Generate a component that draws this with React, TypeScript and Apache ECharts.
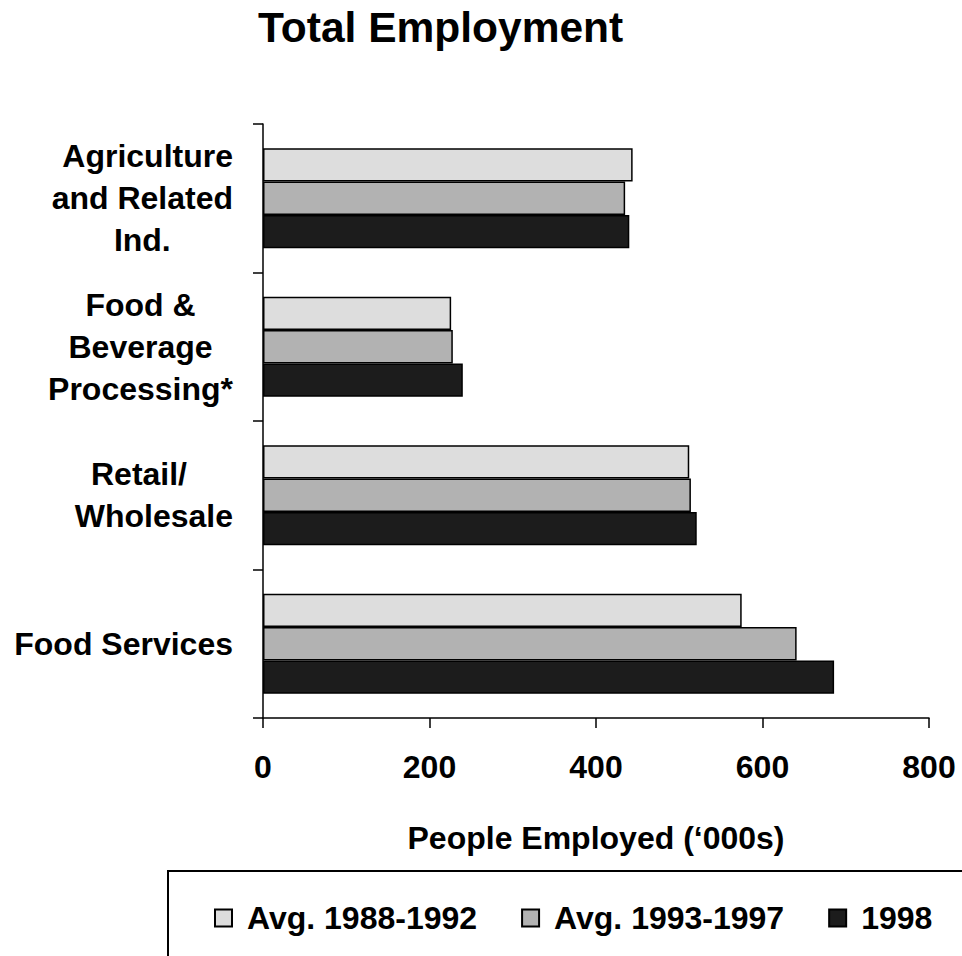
import React, { useEffect, useRef } from "react";
import * as echarts from "echarts";

const categories = [
  "Agriculture\nand Related\nInd.",
  "Food &\nBeverage\nProcessing*",
  "Retail/\nWholesale",
  "Food Services",
];
const seriesNames = ["Avg. 1988-1992", "Avg. 1993-1997", "1998"];
const avg8892 = [444, 226, 512, 575];
const avg9397 = [435, 228, 514, 641];
const y1998 = [440, 240, 521, 686];
const xTicks = [0, 200, 400, 600, 800];

const FONT = "'Liberation Sans', Arial, Helvetica, sans-serif";
const colors = ["#DDDDDD", "#B2B2B2", "#1C1C1C"];

// rich-style name per label line (default right-aligned)
const lineStyle: Record<string, string> = {
  "Ind.": "c",
  "Food &": "c",
  "Beverage": "c",
  "Retail/": "rs",
};

export default function App() {
  const ref = useRef<HTMLDivElement>(null);
  useEffect(() => {
    document.body.style.margin = "0";
    if (!ref.current) return;
    const chart = echarts.init(ref.current, null, { renderer: "svg" });
    const lbl = { fontFamily: FONT, fontSize: 32, fontWeight: "bold", color: "#000", lineHeight: 42 };
    const values = [avg8892, avg9397, y1998];
    chart.setOption({
      animation: false,
      backgroundColor: "#fff",
      title: {
        text: "Total Employment",
        left: 258,
        top: 6,
        padding: 0,
        textStyle: { fontFamily: FONT, fontSize: 42.5, fontWeight: "bold", color: "#000" },
      },
      legend: {
        data: seriesNames,
        orient: "horizontal",
        left: 168,
        top: 871,
        width: 820,
        padding: [31, 60, 40, 46],
        borderColor: "#000",
        borderWidth: 2,
        itemWidth: 17,
        itemHeight: 17,
        itemGap: 44,
        icon: "rect",
        selectedMode: false,
        textStyle: { fontFamily: FONT, fontSize: 32, fontWeight: "bold", color: "#000", padding: [0, 0, 0, 10] },
      },
      grid: { left: 263, right: 33, top: 124, bottom: 238, containLabel: false },
      xAxis: {
        type: "value",
        min: xTicks[0],
        max: xTicks[xTicks.length - 1],
        interval: xTicks[1] - xTicks[0],
        name: "People Employed (\u2018000s)",
        nameLocation: "middle",
        nameGap: 104,
        nameTextStyle: { fontFamily: FONT, fontSize: 32, fontWeight: "bold", color: "#000" },
        axisLine: { show: true, lineStyle: { color: "#000", width: 1.5 } },
        axisTick: { show: true, length: 10, lineStyle: { color: "#000", width: 1.5 } },
        axisLabel: { margin: 33, fontFamily: FONT, fontSize: 32, fontWeight: "bold", color: "#000" },
        splitLine: { show: false },
      },
      yAxis: {
        type: "category",
        data: categories,
        inverse: true,
        axisLine: { show: true, lineStyle: { color: "#000", width: 1.5 } },
        axisTick: { show: true, length: 10, alignWithLabel: false, lineStyle: { color: "#000", width: 1.5 } },
        axisLabel: {
          interval: 0,
          margin: 30,
          align: "right",
          ...lbl,
          formatter: (v: string) =>
            v
              .split("\n")
              .map((ln) => `{${lineStyle[ln] || "r"}|${ln}}`)
              .join("\n"),
          rich: {
            r: { ...lbl, align: "right" },
            c: { ...lbl, align: "center" },
            rs: { ...lbl, align: "right", padding: [0, 46, 0, 0] },
          },
        },
        splitLine: { show: false },
      },
      series: seriesNames.map((name, i) => ({
        name,
        type: "bar",
        data: values[i],
        barGap: "0%",
        barCategoryGap: "32.7%",
        itemStyle: { color: colors[i], borderColor: "#000", borderWidth: 1.5 },
      })),
    });
    return () => chart.dispose();
  }, []);
  return <div ref={ref} style={{ width: 962, height: 956 }} />;
}
